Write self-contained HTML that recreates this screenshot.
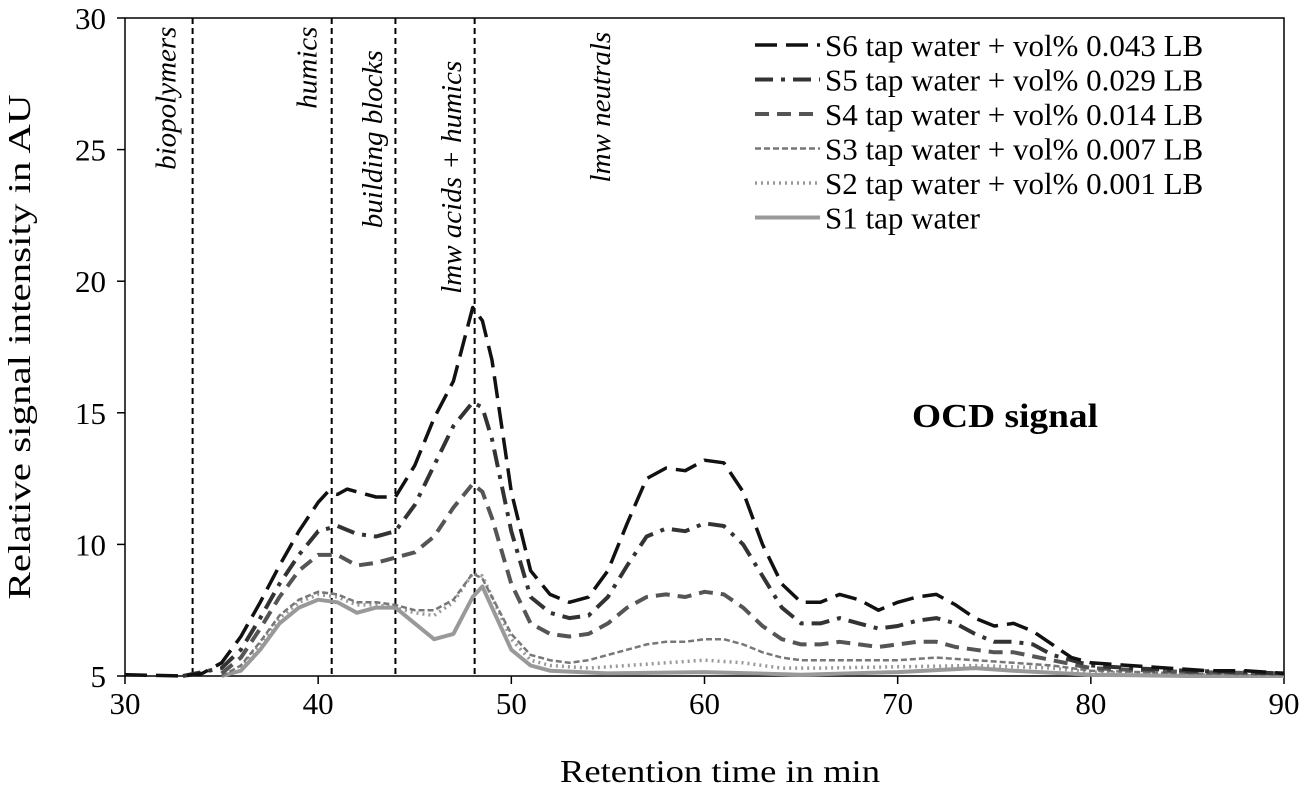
<!DOCTYPE html>
<html><head><meta charset="utf-8"><style>
body{margin:0;background:#fff}
svg{display:block;font-family:"Liberation Serif",serif}
</style></head><body>
<svg id="c" width="1306" height="788">
<rect x="125" y="18" width="1159" height="658" fill="none" stroke="#000" stroke-width="1.5"/>
<g id="axes"></g><g id="series"></g><g id="legend"></g>
<text x="1005" y="427" text-anchor="middle" font-size="34" font-weight="bold" textLength="186" lengthAdjust="spacingAndGlyphs">OCD signal</text>
<text x="720" y="782" text-anchor="middle" font-size="32" textLength="320" lengthAdjust="spacingAndGlyphs">Retention time in min</text>
<text transform="translate(30,347) rotate(-90)" text-anchor="middle" font-size="32" textLength="505" lengthAdjust="spacingAndGlyphs">Relative signal intensity in AU</text>
</svg>
<script>
const xTicks=[30,40,50,60,70,80,90];
const yTicks=[5,10,15,20,25,30];
const fractionTimes=[33.5,40.7,44,48.1];
const fractionLabels=["biopolymers","humics","building blocks","lmw acids + humics","lmw neutrals"];
const fractionLabelX=[32.5,39.8,43.2,47.3,55];
const fractionLabelTop=[29.6,29.6,28.7,28.3,29.4];
const seriesNames=["S6 tap water + vol% 0.043 LB","S5 tap water + vol% 0.029 LB","S4 tap water + vol% 0.014 LB","S3 tap water + vol% 0.007 LB","S2 tap water + vol% 0.001 LB","S1 tap water"];
const s6=[[30,5.05],[33,5],[34,5.1],[35,5.5],[36,6.5],[37,7.8],[38,9.2],[39,10.5],[40,11.6],[40.5,12],[41,11.9],[41.5,12.1],[42,12],[43,11.8],[44,11.8],[45,13],[46,14.8],[47,16.2],[48,19],[48.5,18.5],[49,17],[50,12],[51,9],[52,8.1],[53,7.8],[54,8],[55,9],[56,10.8],[57,12.5],[58,12.9],[59,12.8],[60,13.2],[61,13.1],[62,12],[63,10],[64,8.5],[65,7.8],[66,7.8],[67,8.1],[68,7.9],[69,7.5],[70,7.8],[71,8],[72,8.1],[73,7.7],[74,7.2],[75,6.9],[76,7],[77,6.7],[78,6.2],[79,5.7],[80,5.5],[82,5.4],[84,5.3],[86,5.2],[88,5.2],[90,5.1]];
const s5=[[33,5],[35,5.3],[36,6],[37,7.2],[38,8.5],[39,9.6],[40,10.5],[41,10.7],[42,10.4],[43,10.3],[44,10.5],[45,11.5],[46,13],[47,14.5],[48,15.4],[48.5,15.2],[49,14],[50,10.5],[51,8],[52,7.4],[53,7.2],[54,7.3],[55,8],[56,9.2],[57,10.3],[58,10.6],[59,10.5],[60,10.8],[61,10.7],[62,10],[63,8.8],[64,7.6],[65,7],[66,7],[67,7.2],[68,7],[69,6.8],[70,6.9],[71,7.1],[72,7.2],[73,7],[74,6.6],[75,6.3],[76,6.3],[77,6.2],[78,5.8],[80,5.4],[82,5.3],[85,5.2],[90,5.1]];
const s4=[[35,5.1],[36,5.7],[37,6.8],[38,8],[39,9],[40,9.6],[41,9.6],[42,9.2],[43,9.3],[44,9.5],[45,9.7],[46,10.3],[47,11.4],[48,12.3],[48.5,12],[49,11],[50,8.5],[51,7],[52,6.6],[53,6.5],[54,6.6],[55,7],[56,7.6],[57,8],[58,8.1],[59,8],[60,8.2],[61,8.1],[62,7.6],[63,6.9],[64,6.4],[65,6.2],[66,6.2],[67,6.3],[68,6.2],[69,6.1],[70,6.2],[71,6.3],[72,6.3],[73,6.1],[74,6],[75,5.9],[76,5.9],[78,5.6],[80,5.3],[85,5.15],[90,5.1]];
const s3=[[35,5],[36,5.4],[37,6.3],[38,7.3],[39,7.9],[40,8.2],[41,8.1],[42,7.8],[43,7.8],[44,7.7],[45,7.5],[46,7.5],[47,7.9],[48,8.9],[48.5,8.7],[49,8],[50,6.6],[51,5.8],[52,5.6],[53,5.5],[54,5.6],[55,5.8],[56,6],[57,6.2],[58,6.3],[59,6.3],[60,6.4],[61,6.4],[62,6.2],[63,5.9],[64,5.7],[65,5.6],[66,5.6],[68,5.6],[70,5.6],[72,5.7],[74,5.6],[76,5.5],[78,5.4],[80,5.2],[85,5.1],[90,5.05]];
const s2=[[36,5.3],[37,6.2],[38,7.2],[39,7.8],[40,8.1],[41,8],[42,7.7],[43,7.7],[44,7.6],[45,7.4],[46,7.3],[47,7.8],[48,8.9],[48.5,8.8],[49,8],[50,6.4],[51,5.6],[52,5.4],[54,5.3],[56,5.4],[58,5.5],[60,5.6],[62,5.5],[64,5.3],[66,5.3],[70,5.35],[74,5.4],[78,5.3],[80,5.15],[85,5.05],[90,5]];
const s1=[[35,5],[36,5.2],[37,6],[38,7],[39,7.6],[40,7.9],[41,7.8],[42,7.4],[43,7.6],[44,7.6],[45,7],[46,6.4],[47,6.6],[48,8],[48.5,8.4],[49,7.6],[50,6],[51,5.4],[52,5.2],[55,5.1],[60,5.15],[65,5.05],[70,5.15],[74,5.3],[76,5.2],[80,5.05],[85,5],[90,5]];
const allSeries=[s6,s5,s4,s3,s2,s1];
const styles=[{c:"#111",w:3.5,d:"22 9"},{c:"#333",w:4,d:"18 8 4 8"},{c:"#555",w:4,d:"14 8"},{c:"#777",w:2.5,d:"6 3"},{c:"#999",w:3.5,d:"2 4"},{c:"#999",w:4,d:""}];
const NS="http://www.w3.org/2000/svg";
const X=v=>125+(v-30)/60*1159, Y=v=>676-(v-5)/25*658;
function mk(t,a,p){const e=document.createElementNS(NS,t);for(const k in a)e.setAttribute(k,a[k]);p.appendChild(e);return e;}
const ax=document.getElementById('axes');
xTicks.forEach(v=>{const l=mk('line',{x1:X(v),x2:X(v),y1:676,y2:684,stroke:'#000','stroke-width':1.5},ax);


const t=mk('text',{x:X(v),y:714,'text-anchor':'middle','font-size':31},ax);t.textContent=v;

});
yTicks.forEach(v=>{const l=mk('line',{x1:117,x2:125,y1:Y(v),y2:Y(v),stroke:'#000','stroke-width':1.5},ax);


const t=mk('text',{x:106,y:Y(v)+11,'text-anchor':'end','font-size':31},ax);t.textContent=v;

});
fractionTimes.forEach(v=>{const l=mk('line',{x1:X(v),x2:X(v),y1:18,y2:676,stroke:'#000','stroke-width':2,'stroke-dasharray':'6 4'},ax);

});
fractionLabels.forEach((s,i)=>{const t=mk('text',{transform:`translate(${X(fractionLabelX[i])+2},${Y(fractionLabelTop[i])-2}) rotate(-90)`,'text-anchor':'end','font-size':29,'font-style':'italic'},ax);t.textContent=s;

});
const sg=document.getElementById('series'),lg=document.getElementById('legend');
allSeries.slice().reverse().forEach((d,ri)=>{const i=5-ri,st=styles[i];
const p=mk('path',{d:'M'+d.map(q=>X(q[0]).toFixed(1)+','+Y(q[1]).toFixed(1)).join('L'),fill:'none',stroke:st.c,'stroke-width':st.w,'stroke-dasharray':st.d,'stroke-linejoin':'round'},sg);

});
seriesNames.forEach((n,i)=>{const st=styles[i],y=45+i*34.5;
const g=mk('g',{},lg);


mk('line',{x1:755,x2:820,y1:y,y2:y,stroke:st.c,'stroke-width':st.w,'stroke-dasharray':st.d},g);
const t=mk('text',{x:825,y:y+11,'font-size':31},g);t.textContent=n;});
</script>
</body></html>
